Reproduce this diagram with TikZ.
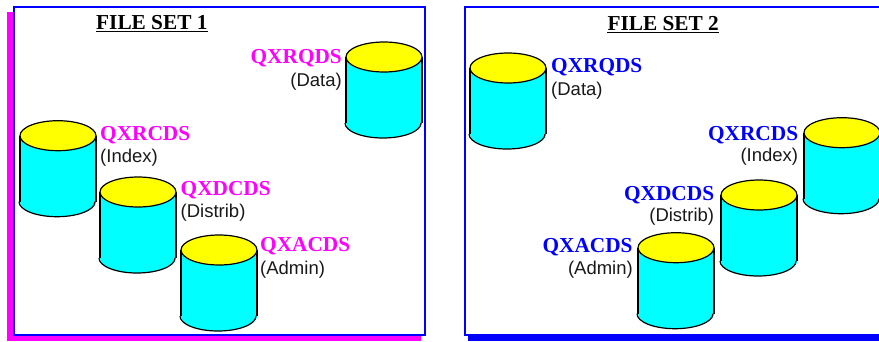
\documentclass[tikz,border=0pt]{standalone}
\usepackage{fontspec}
\setmainfont{Liberation Serif}
\newfontfamily\arialfont{Liberation Sans}
\definecolor{mag}{RGB}{255,0,255}
\definecolor{blu}{RGB}{0,0,255}
\definecolor{cyn}{RGB}{0,255,255}
\definecolor{yel}{RGB}{255,255,0}
\tikzset{
  x=1bp,y=-1bp,
  titletext/.style={inner sep=0,font=\fontsize{21.3bp}{24bp}\selectfont\bfseries,text=black},
  dsname/.style={inner sep=0,font=\fontsize{21.3bp}{24bp}\selectfont\bfseries},
  dsrole/.style={inner sep=0,font=\arialfont\fontsize{18.5bp}{21bp}\selectfont,text=black!90},
  titlerule/.style={draw=black,line width=1.5bp},
  framebox/.style={draw=blu,line width=2bp},
  shadowbar/.style={line width=0},
  pics/dbcyl/.style={code={
    \fill[cyn] (-38,0) -- (-38,66) arc[start angle=180,end angle=360,x radius=38,y radius=-15] -- (38,0) -- cycle;
    \draw[line width=1.2bp] (-39,66) arc[start angle=180,end angle=360,x radius=38,y radius=-15];
    \draw[line width=1.5bp] (-38,0) -- (-38,66) (38,0) -- (38,66);
    \draw[line width=1.2bp,fill=yel] (0,0) ellipse[x radius=38,y radius=15];
  }}
}
\begin{document}
\begin{tikzpicture}
\useasboundingbox (0,0) rectangle (879,341);
\clip (0,0) rectangle (879,341);
\fill[white] (0,0) rectangle (879,341);
% left panel
\fill[mag,shadowbar] (7,12) rectangle (14,341);
\fill[mag,shadowbar] (7,335) rectangle (421,341);
\draw[framebox] (14,7) rectangle (425,335);
\node[titletext,anchor=base west] (t1) at (96,29.3) {FILE SET 1};
\draw[titlerule] ([yshift=-2.4bp]t1.base west) -- ([yshift=-2.4bp]t1.base east);
\pic at (384,57) {dbcyl};
\pic at (58,135.7) {dbcyl};
\pic at (138,192) {dbcyl};
\pic at (219,250) {dbcyl};
\node[dsname,text=mag,anchor=base east] (a1) at (342,63.5) {QXRQDS};
\node[dsrole,anchor=base east] (a2) at (342,86.7) {(Data)};
\node[dsname,text=mag,anchor=base west] (b1) at (100,140) {QXRCDS};
\node[dsrole,anchor=base west] (b2) at (100,162.7) {(Index)};
\node[dsname,text=mag,anchor=base west] (c1) at (180.5,195.7) {QXDCDS};
\node[dsrole,anchor=base west] (c2) at (180.5,217.5) {(Distrib)};
\node[dsname,text=mag,anchor=base west] (d1) at (260,251.7) {QXACDS};
\node[dsrole,anchor=base west] (d2) at (260,274) {(Admin)};
% right panel
\fill[blu,shadowbar] (468,334) rectangle (879,341);
\draw[framebox] (880,7) -- (465,7) -- (465,335) -- (880,335);
\node[titletext,anchor=base west] (t2) at (607.3,30) {FILE SET 2};
\draw[titlerule] ([yshift=-2.4bp]t2.base west) -- ([yshift=-2.4bp]t2.base east);
\pic at (508,68) {dbcyl};
\pic at (842,132.7) {dbcyl};
\pic at (759,195) {dbcyl};
\pic at (676,247.7) {dbcyl};
\node[dsname,text=blu,anchor=base west] (e1) at (551,72.7) {QXRQDS};
\node[dsrole,anchor=base west] (e2) at (551,95.3) {(Data)};
\node[dsname,text=blu,anchor=base east] (f1) at (798.3,140) {QXRCDS};
\node[dsrole,anchor=base east] (f2) at (798.3,161.7) {(Index)};
\node[dsname,text=blu,anchor=base east] (g1) at (714.3,200) {QXDCDS};
\node[dsrole,anchor=base east] (g2) at (714.3,221.7) {(Distrib)};
\node[dsname,text=blu,anchor=base east] (h1) at (632.7,252.7) {QXACDS};
\node[dsrole,anchor=base east] (h2) at (633,274) {(Admin)};
\end{tikzpicture}
\end{document}
